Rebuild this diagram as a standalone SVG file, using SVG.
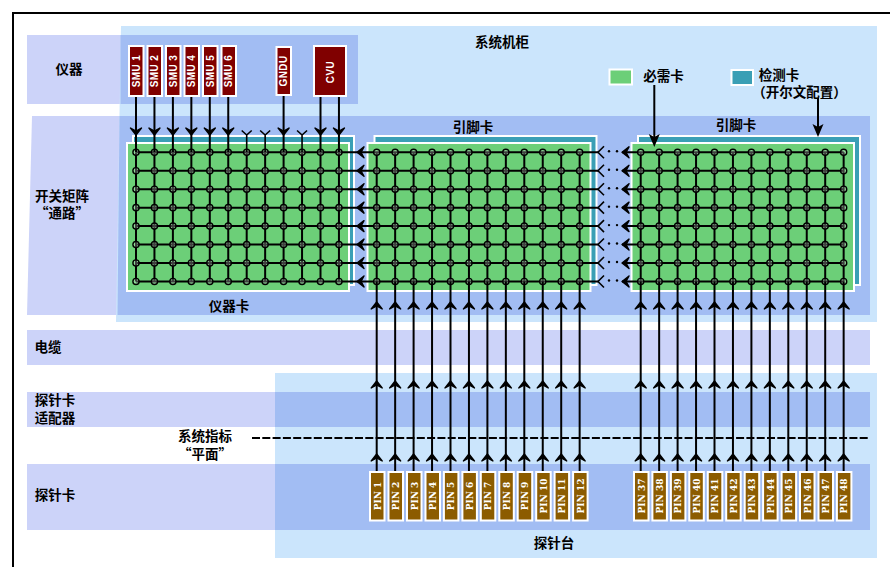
<svg xmlns="http://www.w3.org/2000/svg" width="890" height="567" viewBox="0 0 890 567">
<style>
.lav{fill:#ccd3f9}.sky{fill:#cbe5fc}.ovl{fill:#a2bdf3}
.t{font-family:"Noto Sans CJK SC","Liberation Sans",sans-serif;font-weight:700;font-size:13.5px;fill:#000;text-anchor:middle}
.green{fill:#6ccf78;stroke:#fff;stroke-width:2}
.teal{fill:#3a9fb5;stroke:#fff;stroke-width:2}
.red{fill:#800000;stroke:#fff;stroke-width:2}
.pin{fill:#8c5c00;stroke:#fff;stroke-width:2}
.pl{font-family:"DejaVu Serif","Liberation Serif",serif;font-weight:700;font-size:9px;fill:#fff;text-anchor:middle}
.sl{font-family:"Liberation Sans",sans-serif;font-weight:700;font-size:10px;fill:#fff;text-anchor:middle;letter-spacing:.4px}
.w{stroke:#000;stroke-width:2;fill:none}
.v{fill:none;stroke:#000;stroke-width:1.6}
.c{fill:#fff;fill-opacity:.25;stroke:#000;stroke-width:1.4}
</style>
<defs>
<path id="dn" d="M-5.500 -7L0 0L5.500 -7L0 -4Z" fill="#000" stroke="#000" stroke-width="1.400" stroke-linejoin="round"/>
<path id="lf" d="M7 -5.500L0 0L7 5.500L4 0Z" fill="#000" stroke="#000" stroke-width="1.400" stroke-linejoin="round"/>
<path id="up" d="M-5.500 7L0 0L5.500 7L0 4Z" fill="#000" stroke="#000" stroke-width="1.400" stroke-linejoin="round"/>
<g id="row">
<circle class="c" cx="0" r="3.100"/><circle class="c" cx="18.450" r="3.100"/><circle class="c" cx="36.900" r="3.100"/><circle class="c" cx="55.350" r="3.100"/><circle class="c" cx="73.800" r="3.100"/><circle class="c" cx="92.250" r="3.100"/><circle class="c" cx="110.700" r="3.100"/><circle class="c" cx="129.150" r="3.100"/><circle class="c" cx="147.600" r="3.100"/><circle class="c" cx="166.050" r="3.100"/><circle class="c" cx="184.500" r="3.100"/><circle class="c" cx="202.950" r="3.100"/>
</g>
<g id="dots">
<use href="#row" y="152.300"/><use href="#row" y="170.750"/><use href="#row" y="189.200"/><use href="#row" y="207.650"/><use href="#row" y="226.100"/><use href="#row" y="244.550"/><use href="#row" y="263"/><use href="#row" y="281.450"/>
</g>
<g id="vl">
<path class="w" d="M0 152.300V281.450M18.450 152.300V281.450M36.900 152.300V281.450M55.350 152.300V281.450M73.800 152.300V281.450M92.250 152.300V281.450M110.700 152.300V281.450M129.150 152.300V281.450M147.600 152.300V281.450M166.050 152.300V281.450M184.500 152.300V281.450M202.950 152.300V281.450"/>
</g>
<g id="pc">
<path class="w" d="M0 471V281.450"/>
<use href="#up" y="302"/><use href="#up" y="381"/><use href="#up" y="454"/>
</g>
<g id="hr">
<path class="w" d="M136 0H598M622 0H843.650"/>
<use href="#lf" x="357"/>
<path class="v" d="M604 -6L598 0L604 6"/>
<circle cx="609" cy="-1" r="1.200" fill="#000"/><circle cx="617" cy="-1" r="1.200" fill="#000"/>
<use href="#lf" x="622"/>
</g>
</defs>
<g id="background">
<rect width="890" height="567" fill="#fff"/>
<path d="M13 567V13H890" fill="none" stroke="#000" stroke-width="2"/>
<rect class="lav" x="27" y="35" width="331" height="69"/>
<path class="lav" d="M32 116H870V315H27Z"/>
<rect class="lav" x="27" y="330" width="843" height="35"/>
<rect class="lav" x="27" y="392" width="843" height="35"/>
<rect class="lav" x="27" y="464" width="843" height="66"/>
<path class="sky" d="M121 26H877V322H116Z"/>
<rect class="sky" x="275" y="373" width="602" height="185"/>
<rect class="ovl" x="120.500" y="35" width="237.500" height="69"/>
<path class="ovl" d="M119.500 116H870V315H117.500Z"/>
<rect class="ovl" x="275" y="392" width="595" height="35"/>
<rect class="ovl" x="275" y="464" width="595" height="66"/>
</g>
<g id="card-instrument">
<rect class="teal" x="133" y="136" width="221" height="149"/>
<rect class="green" x="127" y="143" width="222" height="148"/>
</g>
<g id="card-pin-a">
<rect class="teal" x="374.500" y="136" width="222" height="149"/>
<rect class="green" x="367.500" y="143" width="223" height="148"/>
</g>
<g id="card-pin-b">
<rect class="teal" x="638" y="136" width="222" height="149"/>
<rect class="green" x="631.500" y="143" width="222.500" height="148"/>
</g>
<g id="legend-required"><rect class="green" x="609.500" y="69.500" width="22.500" height="15"/><text class="t" x="663.500" y="81">必需卡</text></g>
<g id="legend-sense"><rect class="teal" x="731.500" y="70" width="21.500" height="15"/><text class="t" x="779" y="80">检测卡</text><text class="t" x="799.500" y="97">（开尔文配置）</text></g>
<g id="labels">
<text class="t" x="69" y="74">仪器</text>
<text class="t" x="502" y="47">系统机柜</text>
<text class="t" x="473" y="132">引脚卡</text>
<text class="t" x="736" y="130">引脚卡</text>
<text class="t" x="62" y="201">开关矩阵</text>
<text class="t" x="62" y="218">“通路”</text>
<text class="t" x="229" y="311">仪器卡</text>
<text class="t" x="48" y="352">电缆</text>
<text class="t" x="55" y="405">探针卡</text>
<text class="t" x="55" y="423">适配器</text>
<text class="t" x="205" y="441">系统指标</text>
<text class="t" x="205" y="459">“平面”</text>
<text class="t" x="55" y="500">探针卡</text>
<text class="t" x="554" y="548">探针台</text>
</g>
<g id="connectors">
<use href="#vl" x="136"/><use href="#vl" x="376.700"/><use href="#vl" x="640.700"/>
<use href="#hr" y="152.300"/><use href="#hr" y="170.750"/><use href="#hr" y="189.200"/><use href="#hr" y="207.650"/><use href="#hr" y="226.100"/><use href="#hr" y="244.550"/><use href="#hr" y="263"/><use href="#hr" y="281.450"/>
<use href="#dots" x="136"/><use href="#dots" x="376.700"/><use href="#dots" x="640.700"/>
<path class="w" d="M136 96V152M154.450 96V152M172.900 96V152M191.350 96V152M209.800 96V152M228.250 96V152M283.600 95V152M320.500 96V152M338.950 96V152"/>
<use href="#dn" x="136" y="135"/><use href="#dn" x="154.450" y="135"/><use href="#dn" x="172.900" y="135"/><use href="#dn" x="191.350" y="135"/><use href="#dn" x="209.800" y="135"/><use href="#dn" x="228.250" y="135"/><use href="#dn" x="283.600" y="135"/><use href="#dn" x="320.500" y="135"/><use href="#dn" x="338.950" y="135"/>
<path class="v" d="M241.700 130.500L246.700 135V152M251.700 130.500L246.700 135M260.150 130.500L265.150 135V152M270.150 130.500L265.150 135M297.050 130.500L302.050 135V152M307.050 130.500L302.050 135"/>
<use href="#pc" x="376.700"/><use href="#pc" x="395.150"/><use href="#pc" x="413.600"/><use href="#pc" x="432.050"/><use href="#pc" x="450.500"/><use href="#pc" x="468.950"/><use href="#pc" x="487.400"/><use href="#pc" x="505.850"/><use href="#pc" x="524.300"/><use href="#pc" x="542.750"/><use href="#pc" x="561.200"/><use href="#pc" x="579.650"/>
<use href="#pc" x="640.700"/><use href="#pc" x="659.150"/><use href="#pc" x="677.600"/><use href="#pc" x="696.050"/><use href="#pc" x="714.500"/><use href="#pc" x="732.950"/><use href="#pc" x="751.400"/><use href="#pc" x="769.850"/><use href="#pc" x="788.300"/><use href="#pc" x="806.750"/><use href="#pc" x="825.200"/><use href="#pc" x="843.650"/>
<path class="w" d="M654.300 85V140"/><path d="M654.300 147L648.800 134L654.300 137L659.800 134Z" fill="#000"/>
<path class="w" d="M818 98V130"/><path d="M818 137L812.500 124L818 127L823.500 124Z" fill="#000"/>
<path d="M252 438H870" fill="none" stroke="#000" stroke-width="2" stroke-dasharray="8 2.300"/>
</g>
<g id="smu-1"><rect class="red" x="129" y="46" width="14.500" height="50"/><text class="sl" transform="translate(139.700 71) rotate(-90)">SMU 1</text></g>
<g id="smu-2"><rect class="red" x="147.500" y="46" width="14.500" height="50"/><text class="sl" transform="translate(158.200 71) rotate(-90)">SMU 2</text></g>
<g id="smu-3"><rect class="red" x="166" y="46" width="14.500" height="50"/><text class="sl" transform="translate(176.700 71) rotate(-90)">SMU 3</text></g>
<g id="smu-4"><rect class="red" x="184.500" y="46" width="14.500" height="50"/><text class="sl" transform="translate(195.200 71) rotate(-90)">SMU 4</text></g>
<g id="smu-5"><rect class="red" x="203" y="46" width="14.500" height="50"/><text class="sl" transform="translate(213.700 71) rotate(-90)">SMU 5</text></g>
<g id="smu-6"><rect class="red" x="221.500" y="46" width="14.500" height="50"/><text class="sl" transform="translate(232.200 71) rotate(-90)">SMU 6</text></g>
<g id="gndu"><rect class="red" x="276.500" y="47" width="14.500" height="48"/><text class="sl" transform="translate(287.200 71) rotate(-90)">GNDU</text></g>
<g id="cvu"><rect class="red" x="314" y="46" width="32" height="50"/><text class="sl" transform="translate(333.700 72) rotate(-90)">CVU</text></g>
<g id="pin-1"><rect class="pin" x="370" y="472" width="14.500" height="48.500"/><text class="pl" transform="translate(380.500 496) rotate(-90)">PIN 1</text></g>
<g id="pin-2"><rect class="pin" x="388.500" y="472" width="14.500" height="48.500"/><text class="pl" transform="translate(399 496) rotate(-90)">PIN 2</text></g>
<g id="pin-3"><rect class="pin" x="407" y="472" width="14.500" height="48.500"/><text class="pl" transform="translate(417.500 496) rotate(-90)">PIN 3</text></g>
<g id="pin-4"><rect class="pin" x="425.500" y="472" width="14.500" height="48.500"/><text class="pl" transform="translate(436 496) rotate(-90)">PIN 4</text></g>
<g id="pin-5"><rect class="pin" x="443.900" y="472" width="14.500" height="48.500"/><text class="pl" transform="translate(454.400 496) rotate(-90)">PIN 5</text></g>
<g id="pin-6"><rect class="pin" x="462.400" y="472" width="14.500" height="48.500"/><text class="pl" transform="translate(472.900 496) rotate(-90)">PIN 6</text></g>
<g id="pin-7"><rect class="pin" x="480.800" y="472" width="14.500" height="48.500"/><text class="pl" transform="translate(491.300 496) rotate(-90)">PIN 7</text></g>
<g id="pin-8"><rect class="pin" x="499.300" y="472" width="14.500" height="48.500"/><text class="pl" transform="translate(509.800 496) rotate(-90)">PIN 8</text></g>
<g id="pin-9"><rect class="pin" x="517.700" y="472" width="14.500" height="48.500"/><text class="pl" transform="translate(528.200 496) rotate(-90)">PIN 9</text></g>
<g id="pin-10"><rect class="pin" x="536.200" y="472" width="14.500" height="48.500"/><text class="pl" transform="translate(546.700 496) rotate(-90)">PIN 10</text></g>
<g id="pin-11"><rect class="pin" x="554.600" y="472" width="14.500" height="48.500"/><text class="pl" transform="translate(565.100 496) rotate(-90)">PIN 11</text></g>
<g id="pin-12"><rect class="pin" x="573.100" y="472" width="14.500" height="48.500"/><text class="pl" transform="translate(583.600 496) rotate(-90)">PIN 12</text></g>
<g id="pin-37"><rect class="pin" x="634" y="472" width="14.500" height="48.500"/><text class="pl" transform="translate(644.500 496) rotate(-90)">PIN 37</text></g>
<g id="pin-38"><rect class="pin" x="652.400" y="472" width="14.500" height="48.500"/><text class="pl" transform="translate(662.900 496) rotate(-90)">PIN 38</text></g>
<g id="pin-39"><rect class="pin" x="670.900" y="472" width="14.500" height="48.500"/><text class="pl" transform="translate(681.400 496) rotate(-90)">PIN 39</text></g>
<g id="pin-40"><rect class="pin" x="689.300" y="472" width="14.500" height="48.500"/><text class="pl" transform="translate(699.800 496) rotate(-90)">PIN 40</text></g>
<g id="pin-41"><rect class="pin" x="707.800" y="472" width="14.500" height="48.500"/><text class="pl" transform="translate(718.300 496) rotate(-90)">PIN 41</text></g>
<g id="pin-42"><rect class="pin" x="726.200" y="472" width="14.500" height="48.500"/><text class="pl" transform="translate(736.700 496) rotate(-90)">PIN 42</text></g>
<g id="pin-43"><rect class="pin" x="744.700" y="472" width="14.500" height="48.500"/><text class="pl" transform="translate(755.200 496) rotate(-90)">PIN 43</text></g>
<g id="pin-44"><rect class="pin" x="763.100" y="472" width="14.500" height="48.500"/><text class="pl" transform="translate(773.600 496) rotate(-90)">PIN 44</text></g>
<g id="pin-45"><rect class="pin" x="781.600" y="472" width="14.500" height="48.500"/><text class="pl" transform="translate(792.100 496) rotate(-90)">PIN 45</text></g>
<g id="pin-46"><rect class="pin" x="800" y="472" width="14.500" height="48.500"/><text class="pl" transform="translate(810.500 496) rotate(-90)">PIN 46</text></g>
<g id="pin-47"><rect class="pin" x="818.500" y="472" width="14.500" height="48.500"/><text class="pl" transform="translate(829 496) rotate(-90)">PIN 47</text></g>
<g id="pin-48"><rect class="pin" x="836.900" y="472" width="14.500" height="48.500"/><text class="pl" transform="translate(847.400 496) rotate(-90)">PIN 48</text></g>
</svg>
